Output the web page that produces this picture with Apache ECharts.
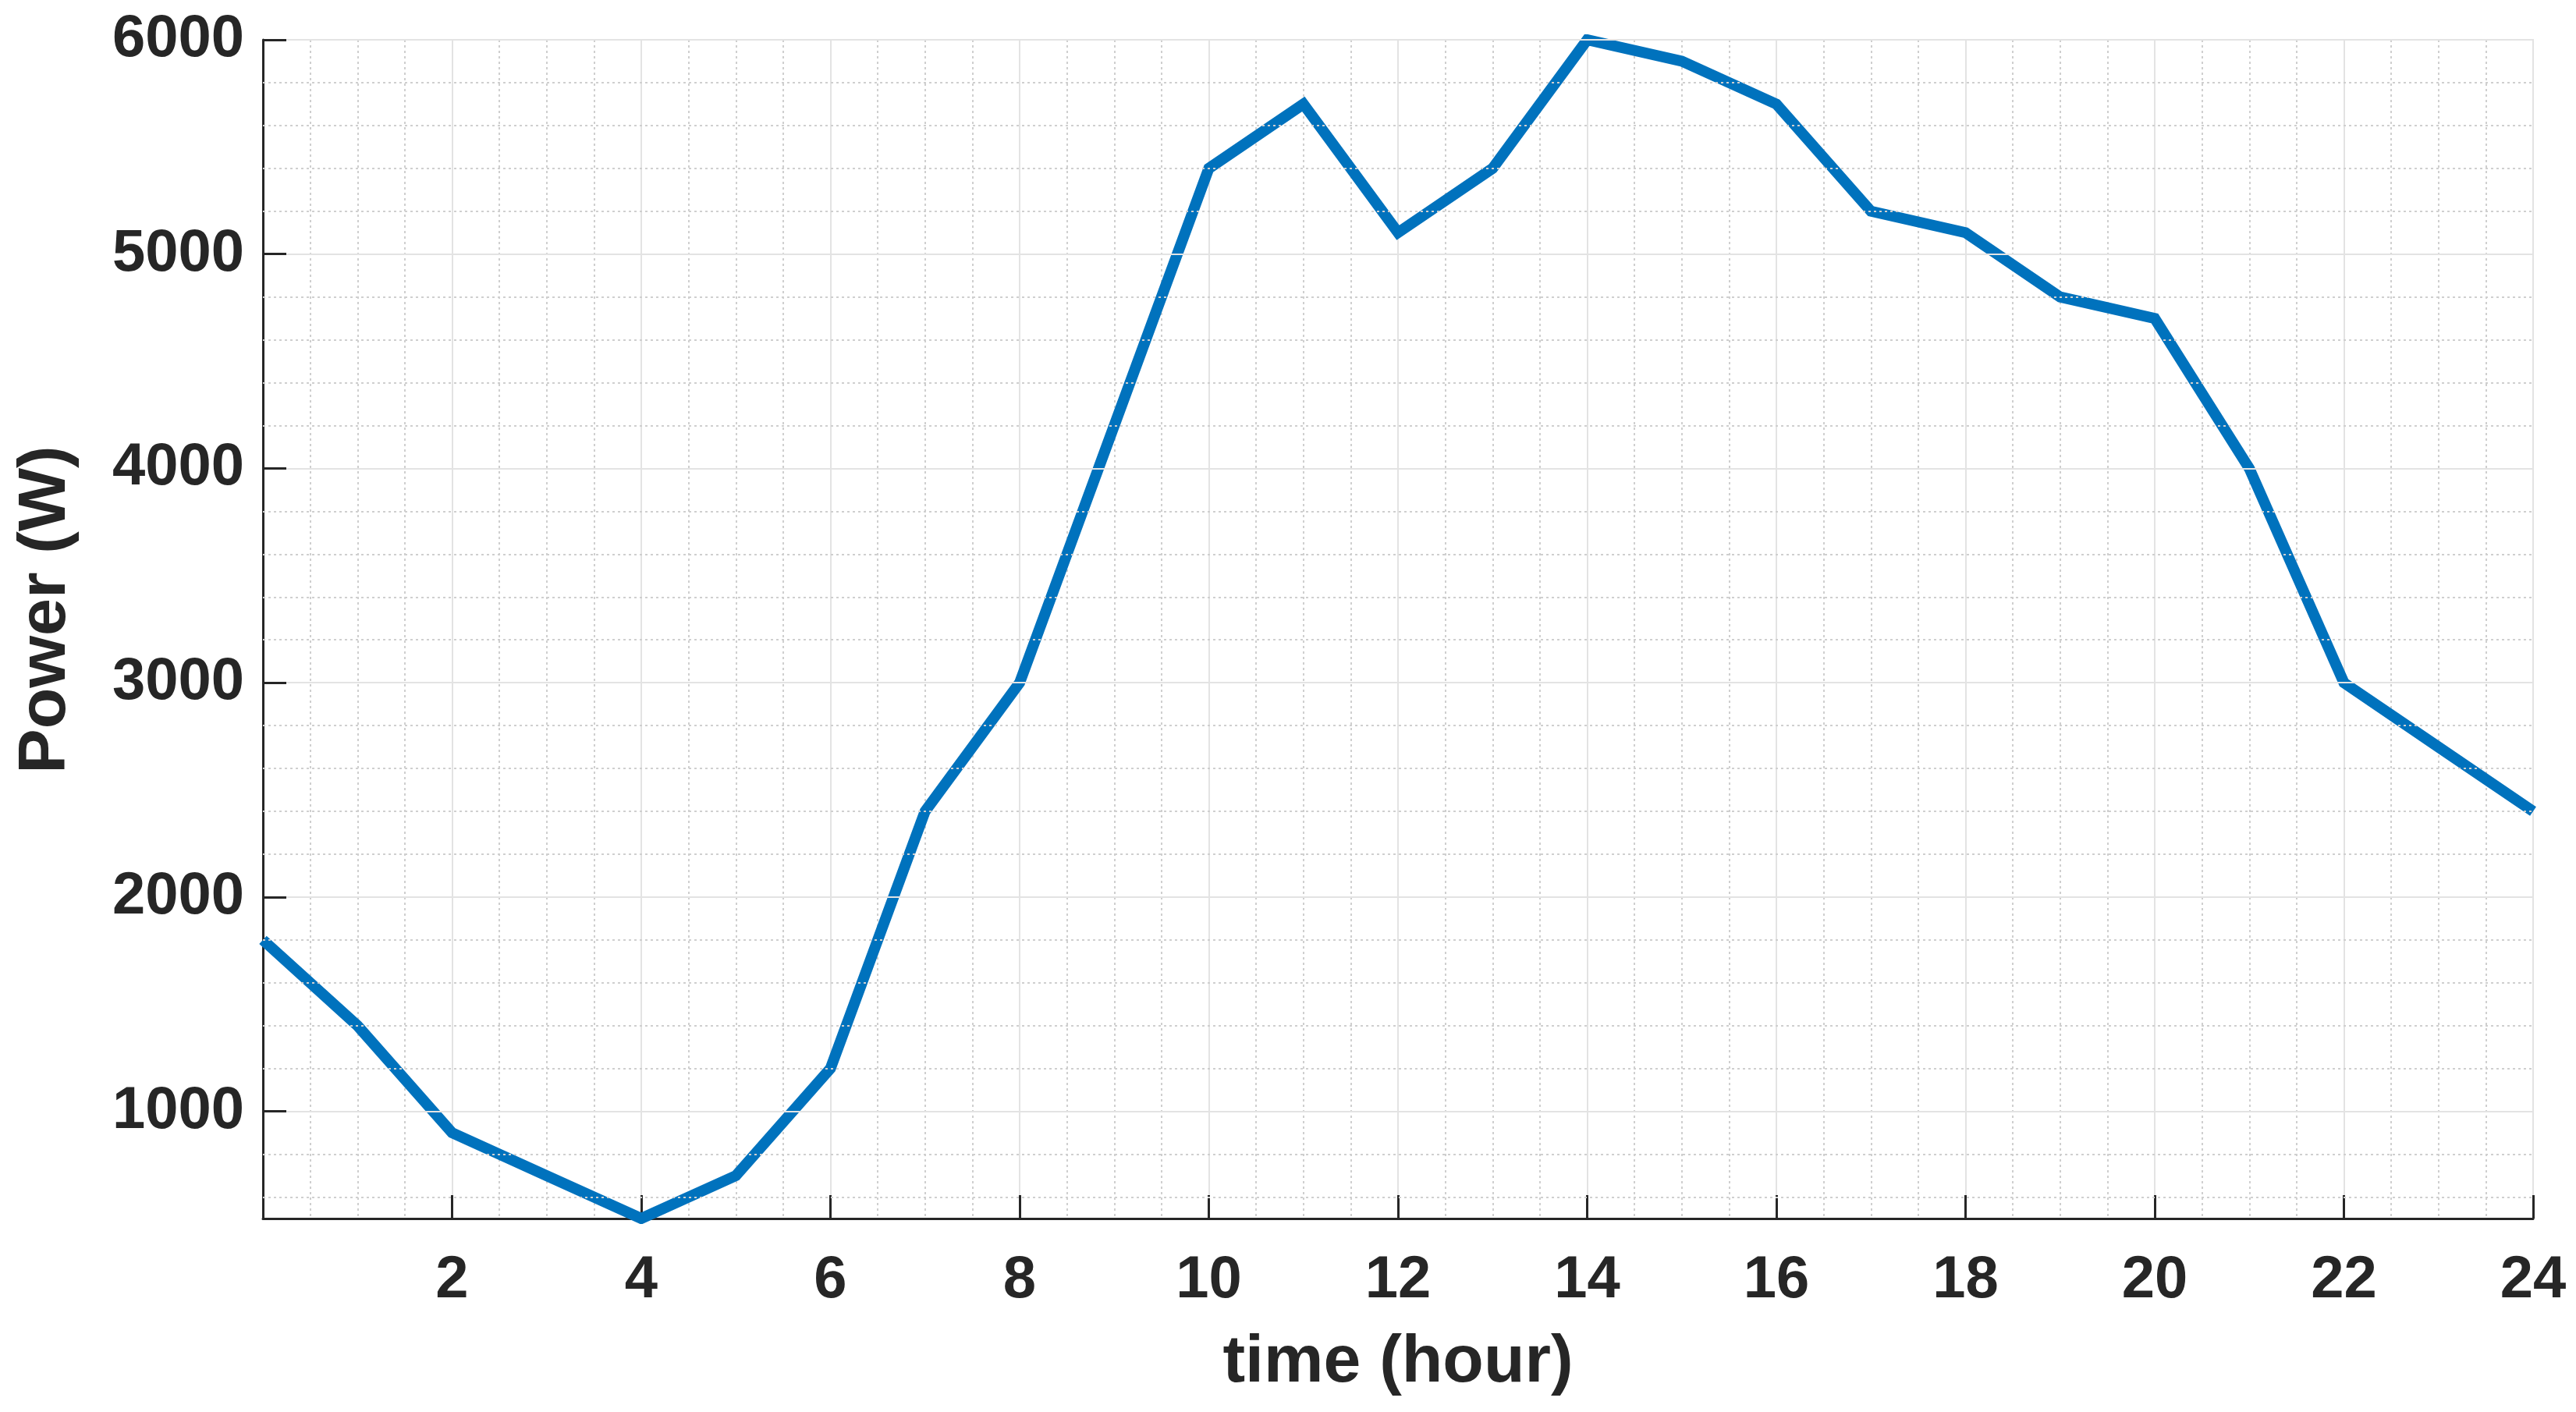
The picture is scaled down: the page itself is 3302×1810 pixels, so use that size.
<!DOCTYPE html>
<html>
<head>
<meta charset="utf-8">
<script src="https://cdn.jsdelivr.net/npm/echarts@6/dist/echarts.min.js"></script>
<style>
html,body{margin:0;padding:0;background:#fff;}
#chart{width:3302px;height:1810px;}
</style>
</head>
<body>
<div id="chart"></div>
<script>
const hours = [0,1,2,3,4,5,6,7,8,9,10,11,12,13,14,15,16,17,18,19,20,21,22,23,24];
const power = [1800,1400,900,700,500,700,1200,2400,3000,4200,5400,5700,5100,5400,6000,5900,5700,5200,5100,4800,4700,4000,3000,2700,2400];
const yMajorGrid = [1000,2000,3000,4000,5000,6000];
const yMinorGrid = [600,800,1200,1400,1600,1800,2200,2400,2600,2800,3200,3400,3600,3800,4200,4400,4600,4800,5200,5400,5600,5800];
const xTickLabels = [2,4,6,8,10,12,14,16,18,20,22,24];
const yTickLabels = [1000,2000,3000,4000,5000,6000];

const textColor = '#262626';
const fontFamily = '"Liberation Sans", Arial, Helvetica, sans-serif';

const chart = echarts.init(document.getElementById('chart'));
chart.setOption({
  animation: false,
  backgroundColor: '#ffffff',
  grid: {
    left: 337, right: 55, top: 51, bottom: 248,
    show: true, borderColor: '#e3e3e3', borderWidth: 2, backgroundColor: 'transparent'
  },
  xAxis: {
    type: 'value', min: 0, max: 24, interval: 2,
    name: 'time (hour)', nameLocation: 'middle', nameGap: 142,
    nameTextStyle: {fontSize: 86, fontWeight: 'bold', color: textColor, fontFamily: fontFamily},
    axisLine: {show: true, onZero: false, lineStyle: {color: textColor, width: 3}},
    axisTick: {show: true, inside: true, length: 30, lineStyle: {color: textColor, width: 3}},
    minorTick: {show: false, splitNumber: 4},
    axisLabel: {
      margin: 42, fontSize: 76, fontWeight: 'bold', color: textColor, fontFamily: fontFamily,
      formatter: v => xTickLabels.includes(v) ? String(v) : ''
    },
    splitLine: {show: true, lineStyle: {color: '#e3e3e3', width: 2}},
    minorSplitLine: {show: true, lineStyle: {color: '#cfcfcf', width: 2, type: [3, 4]}}
  },
  yAxis: {
    type: 'value', min: 500, max: 6000,
    name: 'Power (W)', nameLocation: 'middle', nameGap: 235,
    nameTextStyle: {fontSize: 86, fontWeight: 'bold', color: textColor, fontFamily: fontFamily, padding: [0, 0, 0, 50]},
    axisLine: {show: true, onZero: false, lineStyle: {color: textColor, width: 3}},
    axisTick: {show: false},
    axisLabel: {
      margin: 24, fontSize: 76, fontWeight: 'bold', color: textColor, fontFamily: fontFamily,
      formatter: v => yTickLabels.includes(v) ? String(v) : ''
    },
    splitLine: {show: false}
  },
  series: [
    {
      type: 'line', data: [], silent: true, z: 1,
      markLine: {
        silent: true, symbol: 'none', animation: false, label: {show: false},
        data: yMinorGrid.map(v => ({yAxis: v, lineStyle: {color: '#cfcfcf', width: 2, type: [3, 4]}}))
          .concat(yMajorGrid.map(v => ({yAxis: v, lineStyle: {color: '#e3e3e3', width: 2, type: 'solid'}})))
      }
    },
    {
      type: 'line', data: [], silent: true, z: 3,
      markLine: {
        silent: true, symbol: 'none', animation: false, label: {show: false},
        data: yMajorGrid.map(v => [{coord: [0, v], lineStyle: {color: textColor, width: 3, type: 'solid'}}, {coord: [24 * 30 / 2910, v]}])
      }
    },
    {
      type: 'line', z: 2,
      data: hours.map((h, i) => [h, power[i]]),
      showSymbol: false, symbol: 'none',
      lineStyle: {color: '#0072BD', width: 14, join: 'miter'},
      itemStyle: {color: '#0072BD'}
    }
  ]
});
</script>
</body>
</html>
